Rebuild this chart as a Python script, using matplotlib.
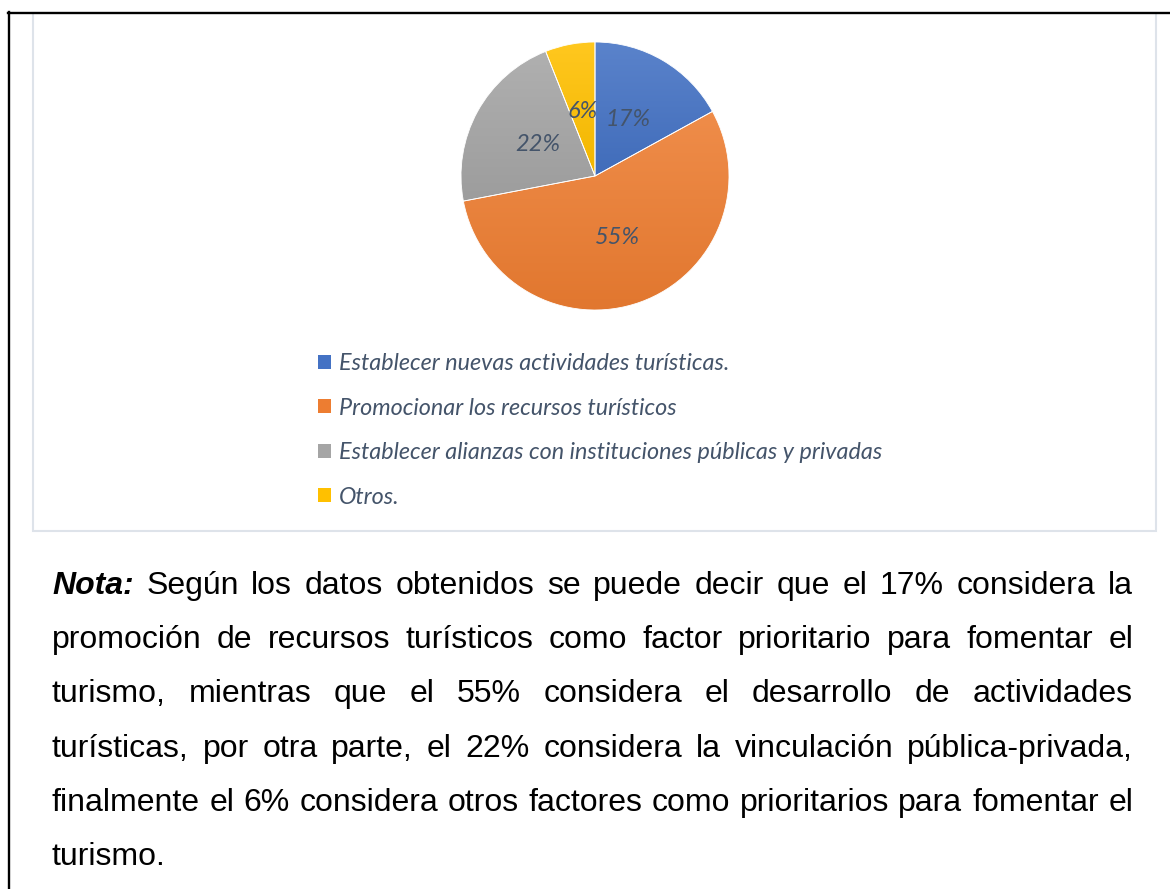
import matplotlib
matplotlib.use("Agg")
import matplotlib.pyplot as plt
import numpy as np
from matplotlib.patches import Patch, Rectangle
from matplotlib.lines import Line2D
from matplotlib.colors import to_rgb
from matplotlib.font_manager import FontProperties

# ---------------- data ----------------
categories = [
    "Establecer nuevas actividades turísticas.",
    "Promocionar los recursos turísticos",
    "Establecer alianzas con instituciones públicas y privadas",
    "Otros.",
]
values = [17, 55, 22, 6]
colors = ["#4472C4", "#ED7D31", "#A5A5A5", "#FFC000"]

note_lead = "Nota:"
note_lines = [
    "Según los datos obtenidos se puede decir que el 17% considera la",
    "promoción de recursos turísticos como factor prioritario para fomentar el",
    "turismo, mientras que el 55% considera el desarrollo de actividades",
    "turísticas, por otra parte, el 22% considera la vinculación pública-privada,",
    "finalmente el 6% considera otros factores como prioritarios para fomentar el",
    "turismo.",
]

# ---------------- figure ----------------
W, H = 1170, 889
fig = plt.figure(figsize=(W / 100, H / 100), dpi=100)
fig.patch.set_facecolor("white")


def fx(px):
    return px / W


def fy(py):
    return 1 - py / H


# outer black frame (top and left visible)
fig.add_artist(Line2D([fx(8.5), fx(8.5)], [fy(12), fy(H + 5)], color="black", lw=1.7,
                      transform=fig.transFigure))
fig.add_artist(Line2D([fx(7.7), fx(W + 5)], [fy(12.5), fy(12.5)], color="black", lw=1.7,
                      transform=fig.transFigure))

# chart area box
fig.add_artist(Rectangle((fx(33), fy(531)), fx(1156) - fx(33), fy(13) - fy(531),
                         transform=fig.transFigure, fill=False, edgecolor="#DEE3EA", lw=1.5))

# ---------------- pie ----------------
cx, cy, r = 595, 176, 134
ax = fig.add_axes([fx(cx - r), fy(cy + r), 2 * r / W, 2 * r / H])
label_color = "#44546A"
wedges, texts, autotexts = ax.pie(
    values, colors=colors, startangle=90, counterclock=False,
    autopct=lambda p: f"{p:.0f}%", pctdistance=0.49,
    wedgeprops=dict(edgecolor="white", linewidth=0.6),
    textprops=dict(color=label_color, fontstyle="italic", fontfamily="Lato", fontsize=17),
)


def shade(c, f):
    c = np.array(to_rgb(c))
    if f >= 0:
        return c + (1 - c) * f
    return c * (1 + f)


for w, c in zip(wedges, colors):
    v = w.get_path().vertices
    xmin, xmax = v[:, 0].min(), v[:, 0].max()
    ymin, ymax = v[:, 1].min(), v[:, 1].max()
    top, bot = shade(c, 0.12), shade(c, -0.05)
    g = np.linspace(0, 1, 256)[:, None, None]
    img = top[None, None, :] * (1 - g) + bot[None, None, :] * g
    im = ax.imshow(img, extent=[xmin, xmax, ymin, ymax], origin="upper", aspect="auto",
                   interpolation="bilinear", zorder=0.5)
    im.set_clip_path(w)
    w.set_facecolor("none")

ax.set_xlim(-1.0, 1.0)
ax.set_ylim(-1.0, 1.0)
ax.set_aspect("equal")
ax.axis("off")

# ---------------- legend ----------------
handles = [Patch(facecolor=c, edgecolor="none") for c in colors]
fig.legend(handles, categories, loc="upper left", bbox_to_anchor=(fx(318), fy(353)),
           frameon=False, prop=FontProperties(family="Lato", style="italic", size=16.8),
           labelcolor=label_color, handlelength=0.55, handleheight=0.55,
           handletextpad=0.34, labelspacing=1.01, borderpad=0, borderaxespad=0)

# ---------------- note paragraph (justified) ----------------
fp_reg = FontProperties(family="Liberation Sans", size=23)
fp_bi = FontProperties(family="Liberation Sans", size=23, weight="bold", style="italic")
renderer = fig.canvas.get_renderer()


def measure(s, fp):
    t = fig.text(0, 0, s, fontproperties=fp)
    wd = t.get_window_extent(renderer).width
    t.remove()
    return wd


space_w = measure("x x", fp_reg) - 2 * measure("x", fp_reg)
x0, x1 = 52, 1133
base0, pitch = 594, 54.2

for i, line in enumerate(note_lines):
    tokens = [(wd, fp_reg) for wd in line.split(" ")]
    if i == 0:
        tokens = [(note_lead, fp_bi)] + tokens
    widths = [measure(t, f) for t, f in tokens]
    if i < len(note_lines) - 1 and len(tokens) > 1:
        gap = (x1 - x0 - sum(widths)) / (len(tokens) - 1)
    else:
        gap = space_w
    x = x0
    yb = base0 + i * pitch
    for (t, f), wd in zip(tokens, widths):
        fig.text(fx(x), fy(yb), t, fontproperties=f, ha="left", va="baseline", color="black")
        x += wd + gap

fig.savefig("out.png", dpi=100, facecolor="white")
